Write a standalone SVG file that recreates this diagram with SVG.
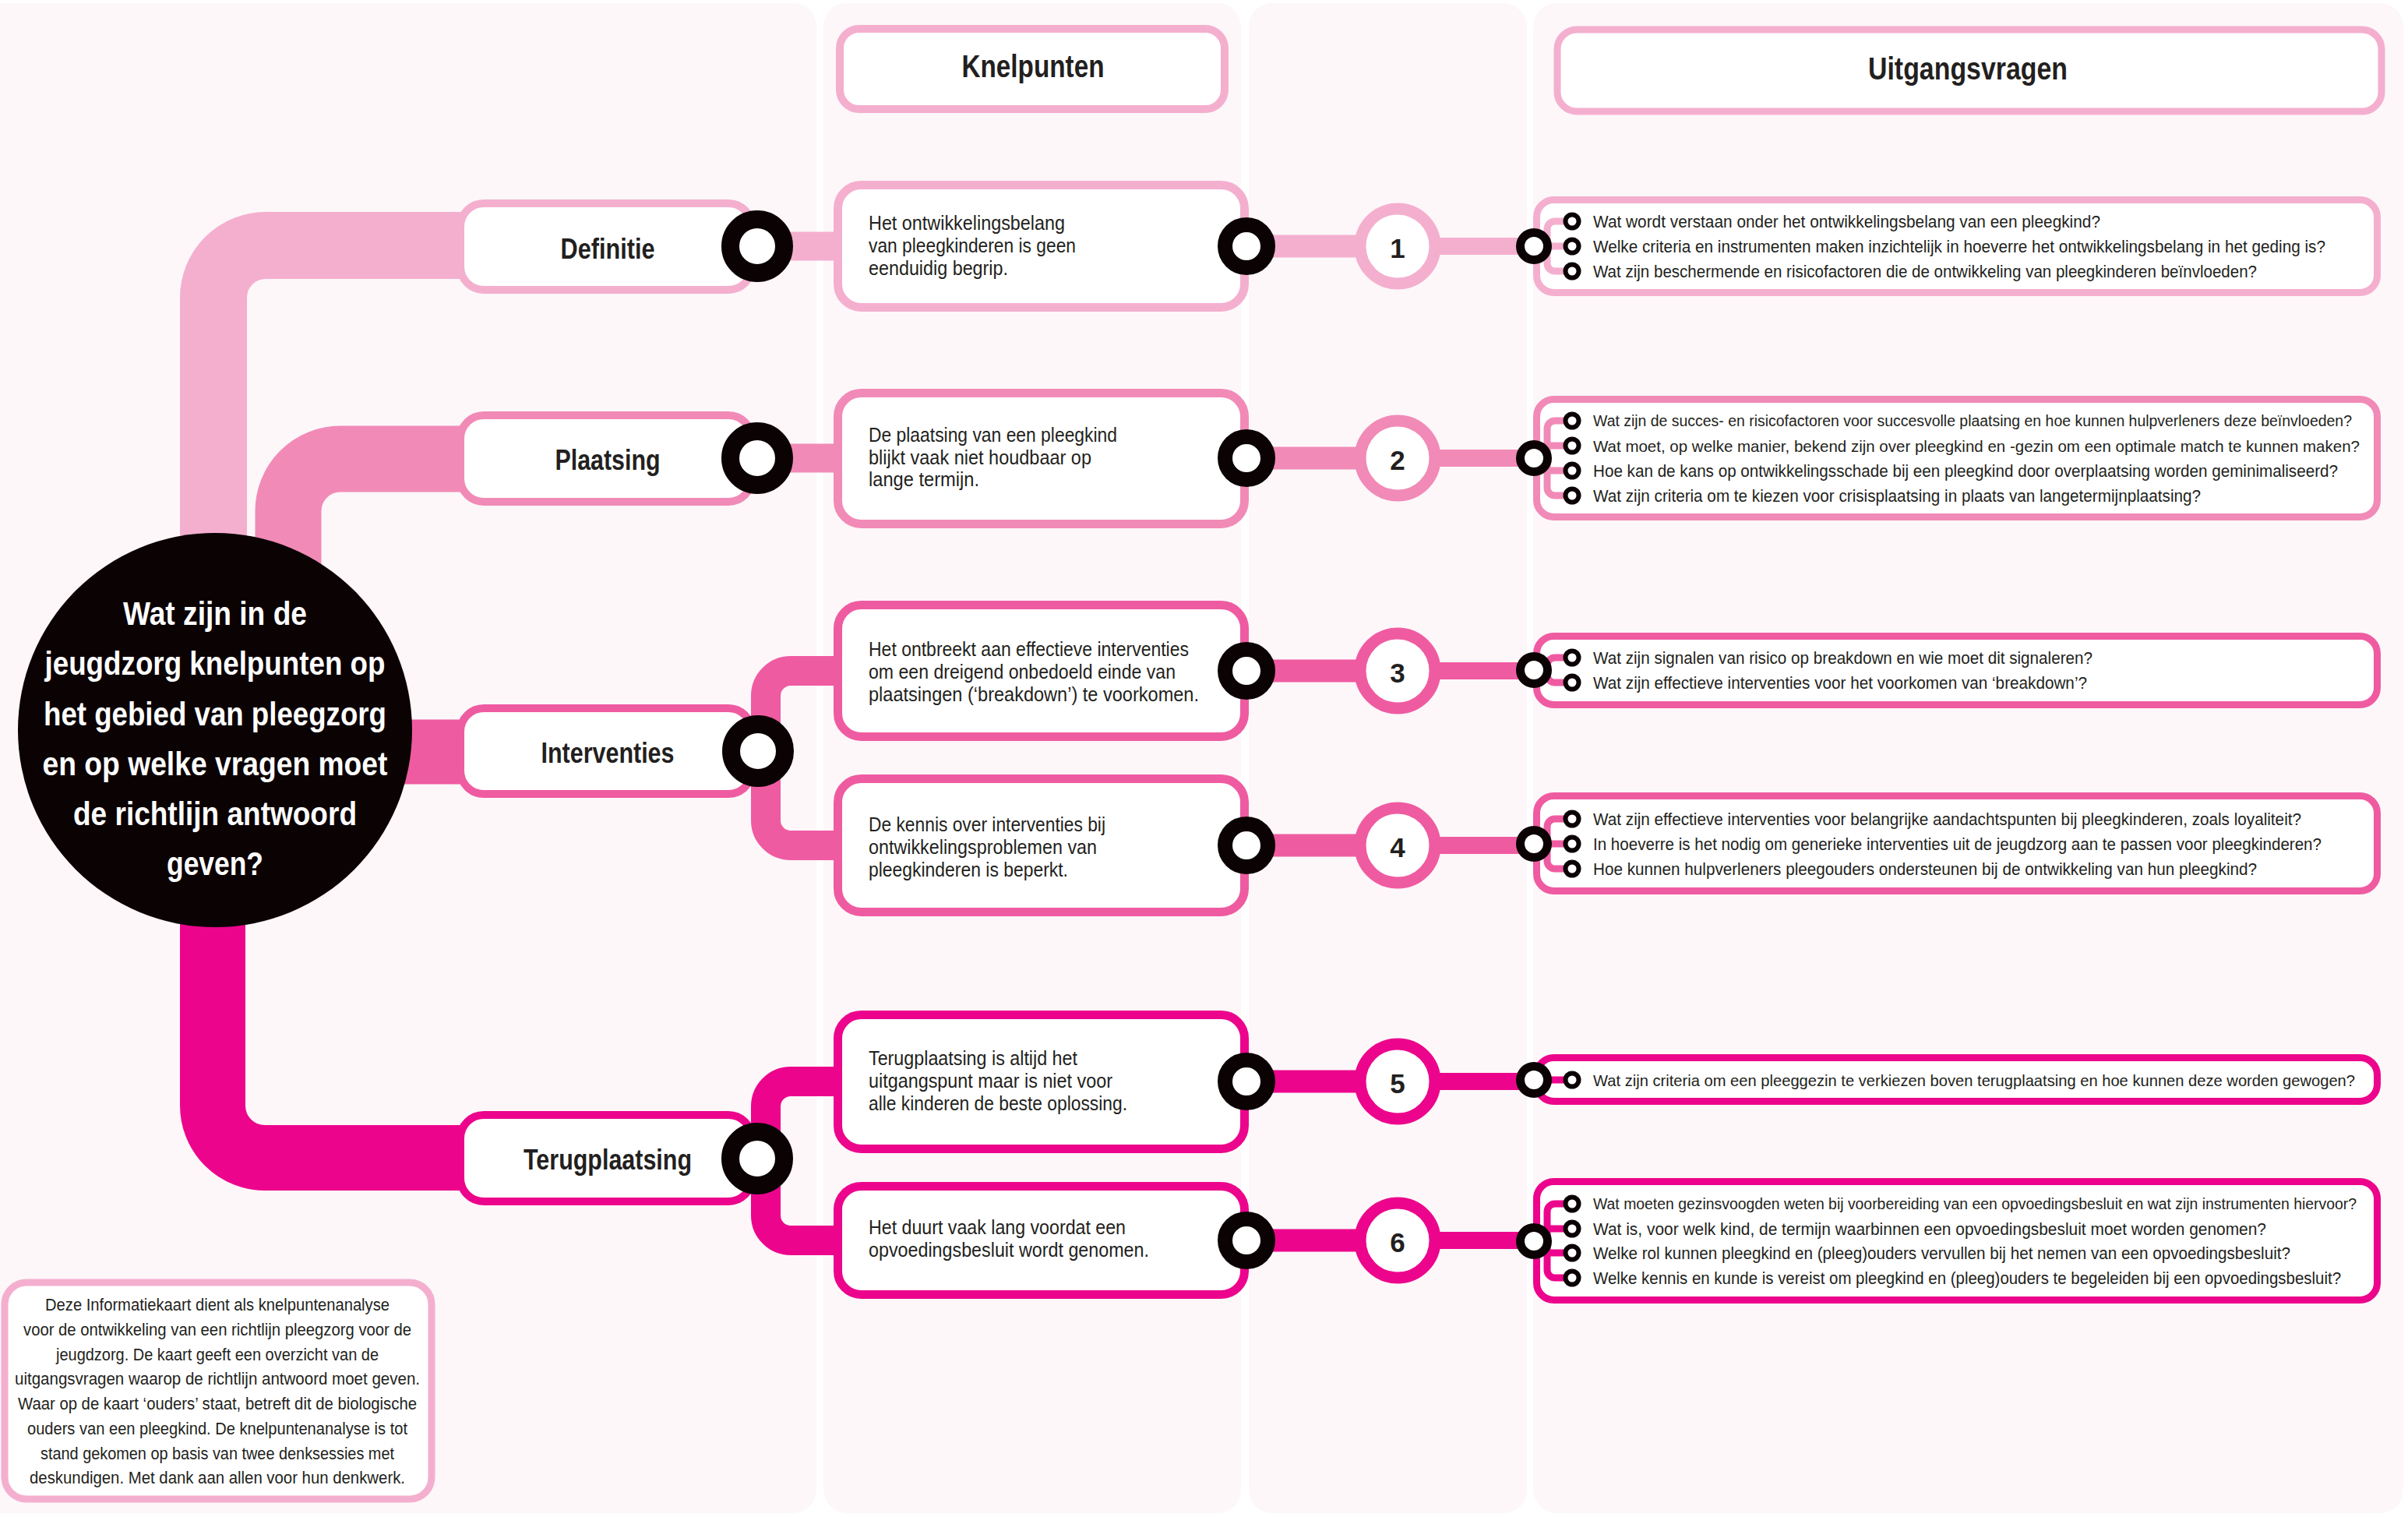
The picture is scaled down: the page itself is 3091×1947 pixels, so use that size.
<svg xmlns="http://www.w3.org/2000/svg" width="3091" height="1947" viewBox="0 0 3091 1947">
<style>
text{font-family:"Liberation Sans",Arial,sans-serif;fill:#231f20}
.q{font-size:22px}
.qs{font-size:21px}
.qx{font-size:20px}
.k{font-size:25px}
.cat{font-size:36px;font-weight:bold;text-anchor:middle}
.hdr{font-size:40px;font-weight:bold;text-anchor:middle}
.ctr{font-size:42px;font-weight:bold;text-anchor:middle;fill:#ffffff}
.note{font-size:22px;text-anchor:middle}
.num{font-size:35px;font-weight:bold;text-anchor:middle}
.panel{fill:#fdf7f9}
.box{fill:#ffffff}
.c1{stroke:#f4afcf}.c2{stroke:#f18ab7}.c3{stroke:#ef5ba1}.c4{stroke:#ec058c}
.band{fill:none}
.ring{fill:#ffffff;stroke:#0b0204}
.bul{fill:#ffffff;stroke:#0b0204;stroke-width:6}
</style>
<rect width="3091" height="1947" fill="#ffffff"/>
<g id="panels">
<rect class="panel" x="-40" y="4" width="1088" height="1938" rx="30"/>
<rect class="panel" x="1057" y="4" width="536" height="1938" rx="30"/>
<rect class="panel" x="1603" y="4" width="357" height="1938" rx="30"/>
<rect class="panel" x="1968" y="4" width="1117" height="1938" rx="30"/>
</g>
<g id="connectors">
<path class="band c1" stroke-width="86" d="M274 730 V382 A67 67 0 0 1 341 315 H610"/>
<path class="band c2" stroke-width="85" d="M370 770 V656 A67 67 0 0 1 437 589 H610"/>
<path class="band c3" stroke-width="83" d="M480 965 H610"/>
<path class="band c4" stroke-width="84" d="M273 1140 V1419 A67 67 0 0 0 340 1486 H610"/>
<path class="band c1" stroke-width="37" d="M972 316 H1080"/>
<path class="band c2" stroke-width="37" d="M972 588 H1080"/>
<path class="band c3" stroke-width="38" d="M1080 861 H1015 A32 32 0 0 0 983 893 V1053 A32 32 0 0 0 1015 1085 H1080"/>
<path class="band c4" stroke-width="38" d="M1080 1388 H1015 A32 32 0 0 0 983 1420 V1560 A32 32 0 0 0 1015 1592 H1080"/>
<g stroke-width="29" class="band">
<path class="c1" d="M1600 316 H1794"/>
<path class="c2" d="M1600 588 H1794"/>
<path class="c3" d="M1600 861 H1794"/>
<path class="c3" d="M1600 1085 H1794"/>
<path class="c4" d="M1600 1388 H1794"/>
<path class="c4" d="M1600 1592 H1794"/>
</g>
<g stroke-width="22" class="band">
<path class="c1" d="M1794 316 H1969"/>
<path class="c2" d="M1794 588 H1969"/>
<path class="c3" d="M1794 861 H1969"/>
<path class="c3" d="M1794 1085 H1969"/>
<path class="c4" d="M1794 1388 H1969"/>
<path class="c4" d="M1794 1592 H1969"/>
</g>
</g>
<g id="center">
<circle cx="276" cy="937" r="253" fill="#0b0204"/>
<text class="ctr" x="276" y="802" textLength="236" lengthAdjust="spacingAndGlyphs">Wat zijn in de</text>
<text class="ctr" x="276" y="866" textLength="437" lengthAdjust="spacingAndGlyphs">jeugdzorg knelpunten op</text>
<text class="ctr" x="276" y="931" textLength="440" lengthAdjust="spacingAndGlyphs">het gebied van pleegzorg</text>
<text class="ctr" x="276" y="995" textLength="443" lengthAdjust="spacingAndGlyphs">en op welke vragen moet</text>
<text class="ctr" x="276" y="1059" textLength="364" lengthAdjust="spacingAndGlyphs">de richtlijn antwoord</text>
<text class="ctr" x="276" y="1123" textLength="124" lengthAdjust="spacingAndGlyphs">geven?</text>
</g>
<g id="cat-definitie">
<rect class="box c1" x="591" y="261" width="374" height="111" rx="30" stroke-width="10"/>
<text class="cat" x="780" y="332" textLength="121" lengthAdjust="spacingAndGlyphs">Definitie</text>
<circle class="ring" cx="972" cy="316" r="34.5" stroke-width="23"/>
</g>
<g id="cat-plaatsing">
<rect class="box c2" x="591" y="533" width="374" height="111" rx="30" stroke-width="10"/>
<text class="cat" x="780" y="603" textLength="135" lengthAdjust="spacingAndGlyphs">Plaatsing</text>
<circle class="ring" cx="972" cy="588" r="34.5" stroke-width="23"/>
</g>
<g id="cat-interventies">
<rect class="box c3" x="591" y="909" width="374" height="110" rx="30" stroke-width="10"/>
<text class="cat" x="780" y="979" textLength="171" lengthAdjust="spacingAndGlyphs">Interventies</text>
<circle class="ring" cx="973" cy="964" r="34.5" stroke-width="23"/>
</g>
<g id="cat-terugplaatsing">
<rect class="box c4" x="591" y="1431" width="374" height="111" rx="30" stroke-width="10"/>
<text class="cat" x="780" y="1501" textLength="216" lengthAdjust="spacingAndGlyphs">Terugplaatsing</text>
<circle class="ring" cx="972" cy="1487" r="34.5" stroke-width="23"/>
</g>
<g id="hdr-knelpunten">
<rect class="box c1" x="1078" y="37" width="494" height="103" rx="25" stroke-width="10"/>
<text class="hdr" x="1326" y="99" textLength="183" lengthAdjust="spacingAndGlyphs">Knelpunten</text>
</g>
<g id="hdr-uitgangsvragen">
<rect class="box c1" x="1999" y="38" width="1058" height="105" rx="25" stroke-width="9"/>
<text class="hdr" x="2526" y="102" textLength="256" lengthAdjust="spacingAndGlyphs">Uitgangsvragen</text>
</g>
<g id="knelpunt-1">
<rect class="box c1" x="1075.5" y="237.5" width="522" height="157" rx="30" stroke-width="11"/>
<text class="k" x="1115" y="295" textLength="252" lengthAdjust="spacingAndGlyphs">Het ontwikkelingsbelang</text>
<text class="k" x="1115" y="324" textLength="266" lengthAdjust="spacingAndGlyphs">van pleegkinderen is geen</text>
<text class="k" x="1115" y="353" textLength="179" lengthAdjust="spacingAndGlyphs">eenduidig begrip.</text>
<circle class="ring" cx="1600" cy="316" r="27.5" stroke-width="19"/>
</g>
<g id="knelpunt-2">
<rect class="box c2" x="1075.5" y="504.5" width="522" height="168" rx="30" stroke-width="11"/>
<text class="k" x="1115" y="567" textLength="319" lengthAdjust="spacingAndGlyphs">De plaatsing van een pleegkind</text>
<text class="k" x="1115" y="596" textLength="286" lengthAdjust="spacingAndGlyphs">blijkt vaak niet houdbaar op</text>
<text class="k" x="1115" y="624" textLength="142" lengthAdjust="spacingAndGlyphs">lange termijn.</text>
<circle class="ring" cx="1600" cy="588" r="27.5" stroke-width="19"/>
</g>
<g id="knelpunt-3">
<rect class="box c3" x="1075.5" y="776.5" width="522" height="169" rx="30" stroke-width="11"/>
<text class="k" x="1115" y="842" textLength="411" lengthAdjust="spacingAndGlyphs">Het ontbreekt aan effectieve interventies</text>
<text class="k" x="1115" y="871" textLength="394" lengthAdjust="spacingAndGlyphs">om een dreigend onbedoeld einde van</text>
<text class="k" x="1115" y="900" textLength="424" lengthAdjust="spacingAndGlyphs">plaatsingen (‘breakdown’) te voorkomen.</text>
<circle class="ring" cx="1600" cy="861" r="27.5" stroke-width="19"/>
</g>
<g id="knelpunt-4">
<rect class="box c3" x="1075.5" y="999.5" width="522" height="171" rx="30" stroke-width="11"/>
<text class="k" x="1115" y="1067" textLength="304" lengthAdjust="spacingAndGlyphs">De kennis over interventies bij</text>
<text class="k" x="1115" y="1096" textLength="293" lengthAdjust="spacingAndGlyphs">ontwikkelingsproblemen van</text>
<text class="k" x="1115" y="1125" textLength="256" lengthAdjust="spacingAndGlyphs">pleegkinderen is beperkt.</text>
<circle class="ring" cx="1600" cy="1085" r="27.5" stroke-width="19"/>
</g>
<g id="knelpunt-5">
<rect class="box c4" x="1075.5" y="1302.5" width="522" height="172" rx="30" stroke-width="11"/>
<text class="k" x="1115" y="1367" textLength="268" lengthAdjust="spacingAndGlyphs">Terugplaatsing is altijd het</text>
<text class="k" x="1115" y="1396" textLength="313" lengthAdjust="spacingAndGlyphs">uitgangspunt maar is niet voor</text>
<text class="k" x="1115" y="1425" textLength="332" lengthAdjust="spacingAndGlyphs">alle kinderen de beste oplossing.</text>
<circle class="ring" cx="1600" cy="1388" r="27.5" stroke-width="19"/>
</g>
<g id="knelpunt-6">
<rect class="box c4" x="1075.5" y="1522.5" width="522" height="139" rx="30" stroke-width="11"/>
<text class="k" x="1115" y="1584" textLength="330" lengthAdjust="spacingAndGlyphs">Het duurt vaak lang voordat een</text>
<text class="k" x="1115" y="1613" textLength="360" lengthAdjust="spacingAndGlyphs">opvoedingsbesluit wordt genomen.</text>
<circle class="ring" cx="1600" cy="1592" r="27.5" stroke-width="19"/>
</g>
<g id="numbers">
<g id="num-1"><circle class="box c1" cx="1794" cy="316" r="48" stroke-width="15"/><text class="num" x="1794" y="331">1</text></g>
<g id="num-2"><circle class="box c2" cx="1794" cy="588" r="48" stroke-width="15"/><text class="num" x="1794" y="603">2</text></g>
<g id="num-3"><circle class="box c3" cx="1794" cy="861" r="48" stroke-width="15"/><text class="num" x="1794" y="876">3</text></g>
<g id="num-4"><circle class="box c3" cx="1794" cy="1085" r="48" stroke-width="15"/><text class="num" x="1794" y="1100">4</text></g>
<g id="num-5"><circle class="box c4" cx="1794" cy="1388" r="48" stroke-width="15"/><text class="num" x="1794" y="1403">5</text></g>
<g id="num-6"><circle class="box c4" cx="1794" cy="1592" r="48" stroke-width="15"/><text class="num" x="1794" y="1607">6</text></g>
</g>
<g id="vragen-1">
<rect class="box c1" x="1972.5" y="256.5" width="1079" height="119" rx="22" stroke-width="9"/>
<path class="band c1" stroke-width="9" d="M2018 284 H1996 A10 10 0 0 0 1986 294 V338 A10 10 0 0 0 1996 348 H2018 M1969 316 H2018"/>
<circle class="ring" cx="1969" cy="316" r="17.5" stroke-width="11"/>
<circle class="bul" cx="2018" cy="284" r="8.5"/><circle class="bul" cx="2018" cy="316" r="8.5"/><circle class="bul" cx="2018" cy="348" r="8.5"/>
<text class="q" x="2045" y="292" textLength="651" lengthAdjust="spacingAndGlyphs">Wat wordt verstaan onder het ontwikkelingsbelang van een pleegkind?</text>
<text class="q" x="2045" y="324" textLength="940" lengthAdjust="spacingAndGlyphs">Welke criteria en instrumenten maken inzichtelijk in hoeverre het ontwikkelingsbelang in het geding is?</text>
<text class="q" x="2045" y="356" textLength="852" lengthAdjust="spacingAndGlyphs">Wat zijn beschermende en risicofactoren die de ontwikkeling van pleegkinderen beïnvloeden?</text>
</g>
<g id="vragen-2">
<rect class="box c2" x="1972.5" y="512.5" width="1079" height="151" rx="22" stroke-width="9"/>
<path class="band c2" stroke-width="9" d="M2018 540 H1996 A10 10 0 0 0 1986 550 V626 A10 10 0 0 0 1996 636 H2018 M1986 572 H2018 M1986 604 H2018 M1969 588 H1986"/>
<circle class="ring" cx="1969" cy="588" r="17.5" stroke-width="11"/>
<circle class="bul" cx="2018" cy="540" r="8.5"/><circle class="bul" cx="2018" cy="572" r="8.5"/><circle class="bul" cx="2018" cy="604" r="8.5"/><circle class="bul" cx="2018" cy="636" r="8.5"/>
<text class="qx" x="2045" y="547" textLength="974" lengthAdjust="spacingAndGlyphs">Wat zijn de succes- en risicofactoren voor succesvolle plaatsing en hoe kunnen hulpverleners deze beïnvloeden?</text>
<text class="qs" x="2045" y="580" textLength="984" lengthAdjust="spacingAndGlyphs">Wat moet, op welke manier, bekend zijn over pleegkind en -gezin om een optimale match te kunnen maken?</text>
<text class="q" x="2045" y="612" textLength="956" lengthAdjust="spacingAndGlyphs">Hoe kan de kans op ontwikkelingsschade bij een pleegkind door overplaatsing worden geminimaliseerd?</text>
<text class="q" x="2045" y="644" textLength="780" lengthAdjust="spacingAndGlyphs">Wat zijn criteria om te kiezen voor crisisplaatsing in plaats van langetermijnplaatsing?</text>
</g>
<g id="vragen-3">
<rect class="box c3" x="1972.5" y="816.5" width="1079" height="88" rx="22" stroke-width="9"/>
<path class="band c3" stroke-width="9" d="M2018 844 H1996 A10 10 0 0 0 1986 854 V866 A10 10 0 0 0 1996 876 H2018 M1969 860 H1986"/>
<circle class="ring" cx="1969" cy="860" r="17.5" stroke-width="11"/>
<circle class="bul" cx="2018" cy="844" r="8.5"/><circle class="bul" cx="2018" cy="876" r="8.5"/>
<text class="q" x="2045" y="852" textLength="641" lengthAdjust="spacingAndGlyphs">Wat zijn signalen van risico op breakdown en wie moet dit signaleren?</text>
<text class="q" x="2045" y="884" textLength="634" lengthAdjust="spacingAndGlyphs">Wat zijn effectieve interventies voor het voorkomen van ‘breakdown’?</text>
</g>
<g id="vragen-4">
<rect class="box c3" x="1972.5" y="1021.5" width="1079" height="122" rx="22" stroke-width="9"/>
<path class="band c3" stroke-width="9" d="M2018 1051 H1996 A10 10 0 0 0 1986 1061 V1105 A10 10 0 0 0 1996 1115 H2018 M1969 1083 H2018"/>
<circle class="ring" cx="1969" cy="1083" r="17.5" stroke-width="11"/>
<circle class="bul" cx="2018" cy="1051" r="8.5"/><circle class="bul" cx="2018" cy="1083" r="8.5"/><circle class="bul" cx="2018" cy="1115" r="8.5"/>
<text class="q" x="2045" y="1059" textLength="909" lengthAdjust="spacingAndGlyphs">Wat zijn effectieve interventies voor belangrijke aandachtspunten bij pleegkinderen, zoals loyaliteit?</text>
<text class="q" x="2045" y="1091" textLength="935" lengthAdjust="spacingAndGlyphs">In hoeverre is het nodig om generieke interventies uit de jeugdzorg aan te passen voor pleegkinderen?</text>
<text class="q" x="2045" y="1123" textLength="852" lengthAdjust="spacingAndGlyphs">Hoe kunnen hulpverleners pleegouders ondersteunen bij de ontwikkeling van hun pleegkind?</text>
</g>
<g id="vragen-5">
<rect class="box c4" x="1972.5" y="1357.5" width="1079" height="56" rx="22" stroke-width="9"/>
<path class="band c4" stroke-width="9" d="M1969 1386 H2018"/>
<circle class="ring" cx="1969" cy="1386" r="17.5" stroke-width="11"/>
<circle class="bul" cx="2018" cy="1386" r="8.5"/>
<text class="qs" x="2045" y="1394" textLength="978" lengthAdjust="spacingAndGlyphs">Wat zijn criteria om een pleeggezin te verkiezen boven terugplaatsing en hoe kunnen deze worden gewogen?</text>
</g>
<g id="vragen-6">
<rect class="box c4" x="1972.5" y="1516.5" width="1079" height="152" rx="22" stroke-width="9"/>
<path class="band c4" stroke-width="9" d="M2018 1545 H1996 A10 10 0 0 0 1986 1555 V1630 A10 10 0 0 0 1996 1640 H2018 M1986 1577 H2018 M1986 1608 H2018 M1969 1593 H1986"/>
<circle class="ring" cx="1969" cy="1593" r="17.5" stroke-width="11"/>
<circle class="bul" cx="2018" cy="1545" r="8.5"/><circle class="bul" cx="2018" cy="1577" r="8.5"/><circle class="bul" cx="2018" cy="1608" r="8.5"/><circle class="bul" cx="2018" cy="1640" r="8.5"/>
<text class="qx" x="2045" y="1552" textLength="980" lengthAdjust="spacingAndGlyphs">Wat moeten gezinsvoogden weten bij voorbereiding van een opvoedingsbesluit en wat zijn instrumenten hiervoor?</text>
<text class="q" x="2045" y="1585" textLength="864" lengthAdjust="spacingAndGlyphs">Wat is, voor welk kind, de termijn waarbinnen een opvoedingsbesluit moet worden genomen?</text>
<text class="q" x="2045" y="1616" textLength="895" lengthAdjust="spacingAndGlyphs">Welke rol kunnen pleegkind en (pleeg)ouders vervullen bij het nemen van een opvoedingsbesluit?</text>
<text class="q" x="2045" y="1648" textLength="960" lengthAdjust="spacingAndGlyphs">Welke kennis en kunde is vereist om pleegkind en (pleeg)ouders te begeleiden bij een opvoedingsbesluit?</text>
</g>
<g id="note">
<rect class="box c1" x="6" y="1646" width="548" height="278" rx="28" stroke-width="9"/>
<text class="note" x="279" y="1682" textLength="442" lengthAdjust="spacingAndGlyphs">Deze Informatiekaart dient als knelpuntenanalyse</text>
<text class="note" x="279" y="1714" textLength="498" lengthAdjust="spacingAndGlyphs">voor de ontwikkeling van een richtlijn pleegzorg voor de</text>
<text class="note" x="279" y="1746" textLength="414" lengthAdjust="spacingAndGlyphs">jeugdzorg. De kaart geeft een overzicht van de</text>
<text class="note" x="279" y="1777" textLength="520" lengthAdjust="spacingAndGlyphs">uitgangsvragen waarop de richtlijn antwoord moet geven.</text>
<text class="note" x="279" y="1809" textLength="512" lengthAdjust="spacingAndGlyphs">Waar op de kaart ‘ouders’ staat, betreft dit de biologische</text>
<text class="note" x="279" y="1841" textLength="488" lengthAdjust="spacingAndGlyphs">ouders van een pleegkind. De knelpuntenanalyse is tot</text>
<text class="note" x="279" y="1873" textLength="454" lengthAdjust="spacingAndGlyphs">stand gekomen op basis van twee denksessies met</text>
<text class="note" x="279" y="1904" textLength="482" lengthAdjust="spacingAndGlyphs">deskundigen. Met dank aan allen voor hun denkwerk.</text>
</g>
</svg>
